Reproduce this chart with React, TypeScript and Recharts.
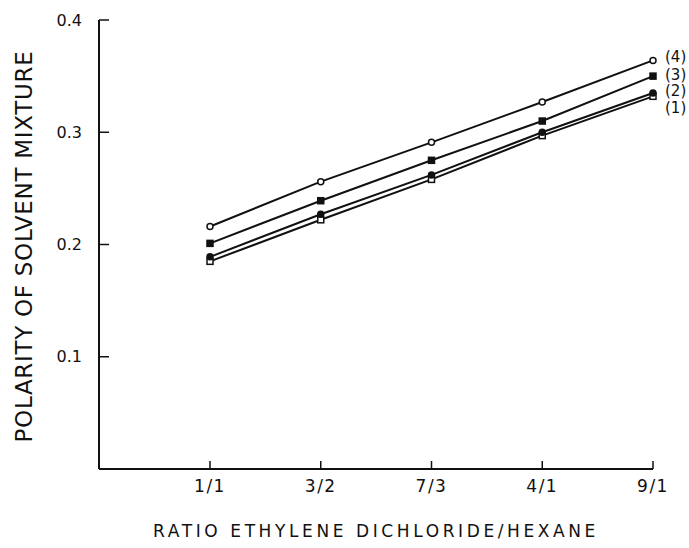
import React from "react";
import { LineChart, Line, XAxis, YAxis } from "recharts";

const RATIOS = ["1/1", "3/2", "7/3", "4/1", "9/1"];
const SERIES_1 = [0.185, 0.222, 0.258, 0.297, 0.332];
const SERIES_2 = [0.189, 0.227, 0.262, 0.3, 0.335];
const SERIES_3 = [0.201, 0.239, 0.275, 0.31, 0.35];
const SERIES_4 = [0.216, 0.256, 0.291, 0.327, 0.364];
const Y_TICKS = [0.1, 0.2, 0.3, 0.4];
const SERIES_NAMES = ["(1)", "(2)", "(3)", "(4)"];

const data = RATIOS.map((r, i) => ({
  ratio: r,
  s1: SERIES_1[i],
  s2: SERIES_2[i],
  s3: SERIES_3[i],
  s4: SERIES_4[i],
}));

const FONT = "'DejaVu Sans', sans-serif";
const INK = "#111";

type DotKind = "openCircle" | "filledCircle" | "filledSquare" | "openSquare";

function makeDot(kind: DotKind) {
  return (props: any) => {
    const { cx, cy, index } = props;
    const key = `${kind}-${index}`;
    if (kind === "openCircle" || kind === "filledCircle") {
      return (
        <circle
          key={key}
          cx={cx}
          cy={cy}
          r={3}
          fill={kind === "filledCircle" ? INK : "#fff"}
          stroke={INK}
          strokeWidth={1.5}
        />
      );
    }
    return (
      <rect
        key={key}
        x={cx - 3}
        y={cy - 3}
        width={6}
        height={6}
        fill={kind === "filledSquare" ? INK : "#fff"}
        stroke={INK}
        strokeWidth={1.5}
      />
    );
  };
}

// name tag to the right of the last point of each line
function makeEndLabel(name: string, dy: number) {
  return (props: any) => {
    const { x, y, index } = props;
    if (index !== RATIOS.length - 1) return null;
    return (
      <text
        key={`lbl-${name}`}
        x={x + 12}
        y={y + dy}
        fontFamily={FONT}
        fontSize={15}
        fill={INK}
        dominantBaseline="middle"
      >
        {name}
      </text>
    );
  };
}

const YTitle = (props: any) => {
  const { viewBox } = props;
  const cx = viewBox.x + 25;
  const cy = viewBox.y + viewBox.height / 2 + 2;
  return (
    <text
      x={cx}
      y={cy}
      transform={`rotate(-90, ${cx}, ${cy})`}
      textAnchor="middle"
      dominantBaseline="middle"
      fontFamily={FONT}
      fontSize={23}
      letterSpacing={0.7}
      fill={INK}
    >
      POLARITY OF SOLVENT MIXTURE
    </text>
  );
};

export default function App() {
  return (
    <div style={{ position: "absolute", left: 0, top: 0, background: "#fff" }}>
      <LineChart
        width={689}
        height={548}
        data={data}
        margin={{ top: 20, right: 36, bottom: 0, left: 0 }}
      >
        <XAxis
          dataKey="ratio"
          padding={{ left: 111, right: 0 }}
          height={79}
          tickSize={-8}
          tickMargin={19}
          axisLine={{ stroke: INK, strokeWidth: 2 }}
          tickLine={{ stroke: INK, strokeWidth: 1.5 }}
          tick={{ fill: INK, fontFamily: FONT, fontSize: 17, letterSpacing: 1.5 }}
          label={{
            value: "RATIO ETHYLENE DICHLORIDE/HEXANE",
            position: "insideBottom",
            offset: 11,
            fill: INK,
            fontFamily: FONT,
            fontSize: 17,
            letterSpacing: 3.6,
          }}
        />
        <YAxis
          width={99}
          domain={[0, 0.4]}
          ticks={Y_TICKS}
          tickSize={-10}
          tickMargin={27}
          axisLine={{ stroke: INK, strokeWidth: 2 }}
          tickLine={{ stroke: INK, strokeWidth: 1.5 }}
          tick={{ fill: INK, fontFamily: FONT, fontSize: 16 }}
          tickFormatter={(v: number) => v.toFixed(1)}
          label={{ content: YTitle }}
        />
        <Line
          dataKey="s1"
          stroke={INK}
          strokeWidth={2}
          isAnimationActive={false}
          dot={makeDot("openSquare")}
          label={makeEndLabel(SERIES_NAMES[0], 12)}
        />
        <Line
          dataKey="s2"
          stroke={INK}
          strokeWidth={2}
          isAnimationActive={false}
          dot={makeDot("filledCircle")}
          label={makeEndLabel(SERIES_NAMES[1], -1)}
        />
        <Line
          dataKey="s3"
          stroke={INK}
          strokeWidth={2}
          isAnimationActive={false}
          dot={makeDot("filledSquare")}
          label={makeEndLabel(SERIES_NAMES[2], -1)}
        />
        <Line
          dataKey="s4"
          stroke={INK}
          strokeWidth={2}
          isAnimationActive={false}
          dot={makeDot("openCircle")}
          label={makeEndLabel(SERIES_NAMES[3], -3)}
        />
      </LineChart>
    </div>
  );
}
